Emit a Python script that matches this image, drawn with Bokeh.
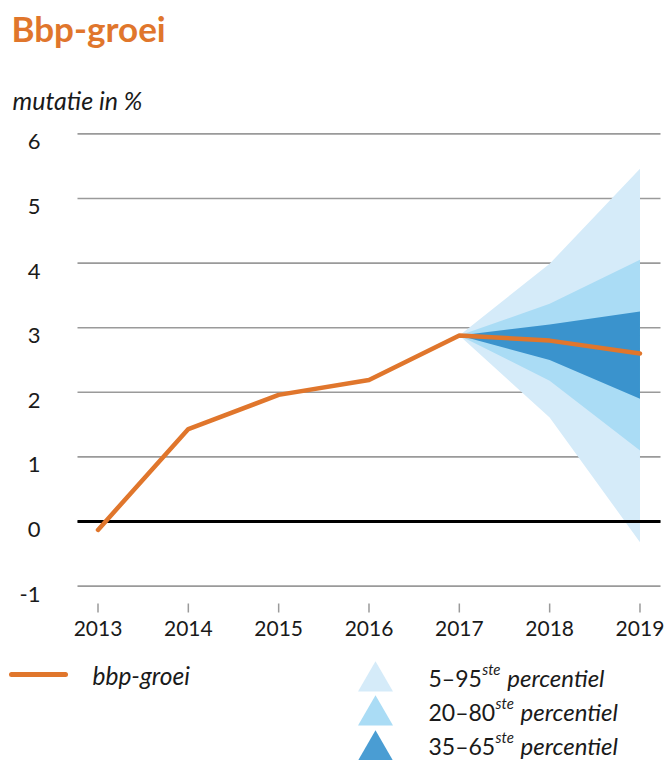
from bokeh.plotting import figure
from bokeh.models import Range1d
from bokeh.core.properties import value
from bokeh.embed import file_html
from bokeh.resources import INLINE

# ---------------- data ----------------
years = [2013, 2014, 2015, 2016, 2017, 2018, 2019]
bbp_groei = [-0.13, 1.43, 1.96, 2.19, 2.88, 2.80, 2.60]

fan_years = [2017, 2018, 2019]
p05 = [2.88, 1.61, -0.32]
p95 = [2.88, 3.99, 5.46]
p20 = [2.88, 2.18, 1.10]
p80 = [2.88, 3.37, 4.05]
p35 = [2.88, 2.50, 1.90]
p65 = [2.88, 3.05, 3.25]

y_ticks = [-1, 0, 1, 2, 3, 4, 5, 6]
y_tick_labels = ["-1", "0", "1", "2", "3", "4", "5", "6"]
x_tick_labels = ["2013", "2014", "2015", "2016", "2017", "2018", "2019"]

legend_numbers = ["5\u201395", "20\u201380", "35\u201365"]

# ---------------- styles ----------------
ORANGE = "#e0762c"
C_OUT = "#d5ebf9"
C_MID = "#aadcf5"
C_IN = "#3a93cd"
TXT = "#1a1a1a"
GRID = "#9a9a9a"
FONT = "Lato"

W, H = 666, 760
X0_PX, PX_YR = 97.5, 90.33     # page x of 2013, pixels per year
Y0_PX, PX_UNIT = 521.0, 64.6   # page y of 0 %, pixels per unit


def dx(px):
    return years[0] + (px - X0_PX) / PX_YR


def dy(py):
    return (Y0_PX - py) / PX_UNIT


p = figure(width=W, height=H, output_backend="svg", toolbar_location=None,
           x_range=Range1d(dx(0), dx(W)),
           y_range=Range1d(dy(H), dy(0)),
           x_axis_location=None, y_axis_location=None,
           min_border=0, min_border_left=0, min_border_right=0,
           min_border_top=0, min_border_bottom=0)
p.outline_line_color = None
p.grid.visible = False
p.background_fill_color = "white"
p.border_fill_color = "white"

# gridlines
p.segment(x0=dx(77), x1=dx(660), y0=y_ticks, y1=y_ticks,
          line_color=GRID, line_width=1.6)

# fan
p.varea(x=fan_years, y1=p05, y2=p95, fill_color=C_OUT)
p.varea(x=fan_years, y1=p20, y2=p80, fill_color=C_MID)
p.varea(x=fan_years, y1=p35, y2=p65, fill_color=C_IN)

# zero line
p.segment(x0=[dx(77)], x1=[dx(660)], y0=[0], y1=[0],
          line_color="black", line_width=3)

# bbp line
p.line(years, bbp_groei, line_color=ORANGE, line_width=4.5,
       line_join="round", line_cap="round")

# x ticks
p.segment(x0=years, x1=years, y0=dy(603), y1=dy(612),
          line_color=GRID, line_width=1.5)

# tick labels
p.text(x=[dx(40)] * len(y_ticks), y=[t - 8 / PX_UNIT for t in y_ticks],
       text=y_tick_labels, text_align="right", text_baseline="middle",
       text_font=value(FONT), text_font_size="22px", text_color=TXT)
p.text(x=years, y=[dy(628)] * len(years), text=x_tick_labels,
       text_align="center", text_baseline="middle",
       text_font=value(FONT), text_font_size="21px", text_color=TXT)

# title and unit
p.text(x=[dx(11)], y=[dy(27)], text=["Bbp-groei"], text_align="left",
       text_baseline="middle", text_font=value(FONT),
       text_font_size="35px", text_font_style="bold", text_color=ORANGE)
p.text(x=[dx(12)], y=[dy(99)], text=["mutatie in %"], text_align="left",
       text_baseline="middle", text_font=value(FONT),
       text_font_size="25px", text_font_style="italic", text_color=TXT)

# legend: line
p.line(x=[dx(11), dx(65)], y=[dy(674), dy(674)], line_color=ORANGE,
       line_width=5, line_cap="round")
p.text(x=[dx(92)], y=[dy(675)], text=["bbp-groei"], text_align="left",
       text_baseline="middle", text_font=value(FONT),
       text_font_size="24.5px", text_font_style="italic", text_color=TXT)

# legend: triangles
row_mid = [677, 711, 745]
p.scatter(x=[dx(375)] * 3, y=[dy(681), dy(715), dy(750)], marker="triangle",
          size=35, fill_color=[C_OUT, C_MID, "#4a9dd3"], line_color=None)
NUM_SIZE = 23
p.text(x=[dx(428)] * 3, y=[dy(m) for m in row_mid], text=legend_numbers,
       text_align="left", text_baseline="middle", text_font=value(FONT),
       text_font_size=f"{NUM_SIZE}px", text_color=TXT)
# approximate text widths (Lato: digits 0.58 em, en dash 0.53 em)
num_w = [((len(s) - 1) * 0.58 + 0.53) * NUM_SIZE for s in legend_numbers]
sup_x = [428 + w + 1.5 for w in num_w]
p.text(x=[dx(v) for v in sup_x], y=[dy(m - 9) for m in row_mid],
       text=["ste"] * 3, text_align="left", text_baseline="middle",
       text_font=value(FONT), text_font_size="15px",
       text_font_style="italic", text_color=TXT)
perc_x = [v + 25 for v in sup_x]
p.text(x=[dx(v) for v in perc_x], y=[dy(m) for m in row_mid],
       text=["percentiel"] * 3, text_align="left", text_baseline="middle",
       text_font=value(FONT), text_font_size="24px",
       text_font_style="italic", text_color=TXT)

open("out.html", "w").write(file_html(p, INLINE))
